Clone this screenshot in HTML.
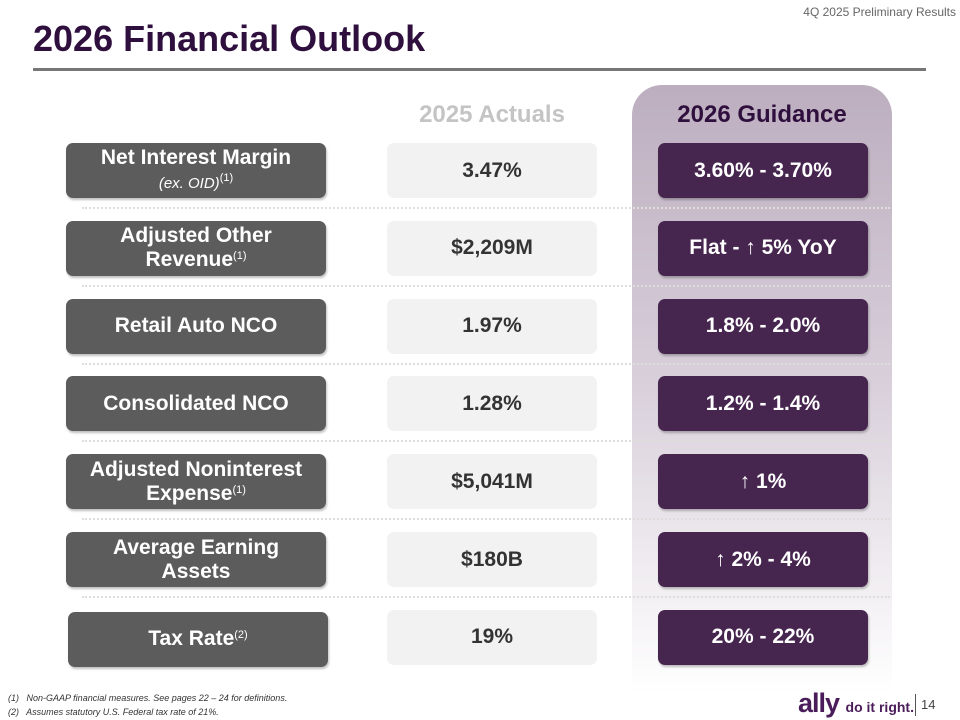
<!DOCTYPE html>
<html><head><meta charset="utf-8"><style>
*{margin:0;padding:0;box-sizing:border-box}
body{width:960px;height:720px;background:#fff;font-family:"Liberation Sans",sans-serif;position:relative;overflow:hidden}
.abs{position:absolute}
.box{position:absolute;height:55px;border-radius:7px;display:flex;align-items:center;justify-content:center;font-weight:bold;text-align:center;line-height:24px}
.box>span{display:block}
.lab{background:#5c5c5c;color:#fff;font-size:21px;left:66px;width:260px;box-shadow:1px 2px 2px rgba(0,0,0,.25)}
.act{background:#f2f2f2;color:#333;font-size:21px;left:387px;width:210px}
.gui{background:#46254f;color:#fff;font-size:21px;left:658px;width:210px;box-shadow:1px 2px 2px rgba(0,0,0,.25)}
sup{font-size:11px;font-weight:normal;vertical-align:7px;line-height:0}
.sep{position:absolute;left:82px;width:808px;border-top:2px dotted #ddd;height:0}
</style></head><body>
<div class="abs" style="right:4px;top:5px;font-size:12px;color:#666">4Q 2025 Preliminary Results</div>
<div class="abs" style="left:33px;top:18px;font-size:36px;font-weight:bold;color:#2e0f3d">2026 Financial Outlook</div>
<div class="abs" style="left:33px;top:68px;width:893px;height:3px;background:#777"></div>
<div class="abs" style="left:632px;top:85px;width:260px;height:608px;border-radius:30px 30px 0 0;background:linear-gradient(#bcaebf,#d9d0db 50%,#fff)"></div>
<div class="abs" style="left:387px;top:101px;width:210px;text-align:center;font-size:24px;font-weight:bold;color:#c4c4c4">2025 Actuals</div>
<div class="abs" style="left:645px;top:101px;width:234px;text-align:center;font-size:24px;font-weight:bold;color:#2e0f3d">2026 Guidance</div>
<div id="rows"></div>
<div class="abs" style="left:8px;top:693px;font-size:9px;font-style:italic;color:#333">(1)&nbsp;&nbsp; Non-GAAP financial measures. See pages 22 – 24 for definitions.</div>
<div class="abs" style="left:8px;top:707px;font-size:9px;font-style:italic;color:#333">(2)&nbsp;&nbsp; Assumes statutory U.S. Federal tax rate of 21%.</div>
<div class="abs" style="left:798px;top:688px;font-size:27px;font-weight:bold;color:#4a1c5a;letter-spacing:-1px">ally <span style="font-size:14px;letter-spacing:0">do it right.</span></div>
<div class="abs" style="left:915px;top:694px;width:1px;height:22px;background:#555"></div>
<div class="abs" style="left:921px;top:697px;font-size:13px;color:#444">14</div>
<script>
const labels=['Net Interest Margin<br><span style="font-weight:normal;font-style:italic;font-size:15px">(ex. OID)</span><sup>(1)</sup>','Adjusted Other<br>Revenue<sup>(1)</sup>','Retail Auto NCO','Consolidated NCO','Adjusted Noninterest<br>Expense<sup>(1)</sup>','Average Earning<br>Assets','Tax Rate<sup>(2)</sup>'];
const actuals=['3.47%','$2,209M','1.97%','1.28%','$5,041M','$180B','19%'];
const guidance=['3.60% - 3.70%','Flat - ↑ 5% YoY','1.8% - 2.0%','1.2% - 1.4%','↑ 1%','↑ 2% - 4%','20% - 22%'];
const rows=document.getElementById('rows');
labels.forEach((l,i)=>{
  const top=143+i*77.8;
  const a=document.createElement('div');a.className='box lab';a.style.top=top+'px';a.innerHTML='<span>'+l+'</span>';
  if(i===6){a.style.left='68px';a.style.top=(top+2)+'px';}
  
  
  const b=document.createElement('div');b.className='box act';b.style.top=top+'px';b.textContent=actuals[i];
  
  
  const c=document.createElement('div');c.className='box gui';c.style.top=top+'px';c.textContent=guidance[i];
  
  
  rows.append(a,b,c);
  if(i<6){const s=document.createElement('div');s.className='sep';s.style.top=(top+64)+'px';
  
  
  rows.append(s);}
});
</script>
</body></html>
